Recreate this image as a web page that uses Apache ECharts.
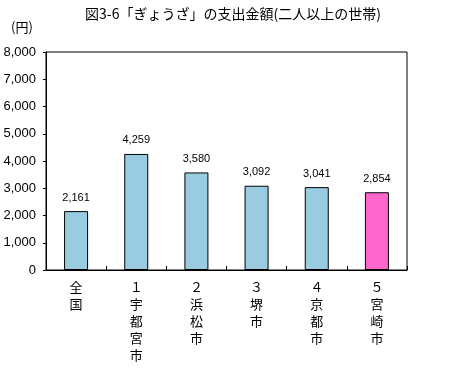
<!DOCTYPE html>
<html><head><meta charset="utf-8">
<script src="https://cdn.jsdelivr.net/npm/echarts@6/dist/echarts.min.js"></script>
<style>html,body{margin:0;padding:0;background:#fff;}#c{width:454px;height:382px;}</style>
</head><body><div id="c"></div>
<script>
const categories = ['全\n国', '１\n宇\n都\n宮\n市', '２\n浜\n松\n市', '３\n堺\n市', '４\n京\n都\n市', '５\n宮\n崎\n市'];
const values = [2161, 4259, 3580, 3092, 3041, 2854];
const barColors = ['#99CCE0', '#99CCE0', '#99CCE0', '#99CCE0', '#99CCE0', '#FF66CC'];
const titleText = '図3-6「ぎょうざ」の支出金額(二人以上の世帯)';
const unitText = '(円)';

const chart = echarts.init(document.getElementById('c'));
const font = '"Noto Sans CJK JP", sans-serif';
chart.setOption({
  animation: false,
  backgroundColor: '#fff',
  title: [
    { text: titleText, left: 228, top: 2, textAlign: 'center',
      textStyle: { fontFamily: font, fontSize: 14, fontWeight: 'normal', color: '#000' } },
    { text: unitText, left: 6, top: 16,
      textStyle: { fontFamily: font, fontSize: 13, fontWeight: 'normal', color: '#000' } }
  ],
  grid: { left: 46, right: 47, top: 52, bottom: 112, show: true, borderColor: '#000', borderWidth: 1 },
  xAxis: {
    type: 'category', data: categories,
    axisLine: { lineStyle: { color: '#000', width: 1 } },
    axisTick: { show: true, inside: true, length: 4, lineStyle: { color: '#000' } },
    axisLabel: { fontFamily: font, fontSize: 13, color: '#000', lineHeight: 17, margin: 9, verticalAlign: 'top' }
  },
  yAxis: {
    type: 'value', min: 0, max: 8000, interval: 1000,
    splitLine: { show: false },
    axisLine: { show: true, lineStyle: { color: '#000' } },
    axisTick: { show: true, length: 3, lineStyle: { color: '#000' } },
    axisLabel: { fontFamily: 'Liberation Sans, sans-serif', fontSize: 13, color: '#000', margin: 10,
      formatter: v => v.toLocaleString('en-US') }
  },
  series: [{
    type: 'bar', barWidth: 24,
    data: values.map((v, i) => ({ value: v, itemStyle: { color: barColors[i] } })),
    itemStyle: { borderColor: '#000', borderWidth: 1 },
    label: { show: true, position: 'top', distance: 8, fontFamily: 'Liberation Sans, sans-serif', fontSize: 11, color: '#000',
      formatter: p => p.value.toLocaleString('en-US') }
  }]
});
</script></body></html>
